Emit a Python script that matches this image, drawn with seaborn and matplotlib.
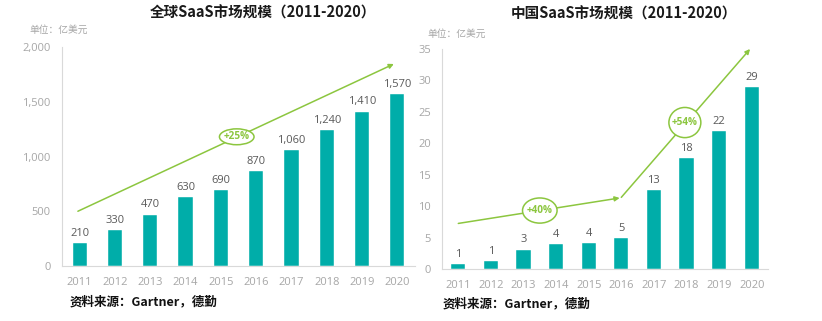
import matplotlib
matplotlib.use("Agg")
import matplotlib.pyplot as plt
import seaborn as sns
import pandas as pd
import numpy as np
from matplotlib.patches import Ellipse

years = ["2011", "2012", "2013", "2014", "2015", "2016", "2017", "2018", "2019", "2020"]
global_values = [210, 330, 470, 630, 690, 870, 1060, 1240, 1410, 1570]
global_labels = ["210", "330", "470", "630", "690", "870", "1,060", "1,240", "1,410", "1,570"]
china_values = [0.8, 1.2, 3.1, 4.0, 4.1, 4.9, 12.6, 17.6, 22.0, 28.9]
china_labels = ["1", "1", "3", "4", "4", "5", "13", "18", "22", "29"]
global_ticks = [0, 500, 1000, 1500, 2000]
global_ticklabels = ["0", "500", "1,000", "1,500", "2,000"]
china_ticks = [0, 5, 10, 15, 20, 25, 30, 35]

sns.set_style("white")
plt.rcParams["font.family"] = ["Noto Sans CJK SC", "DejaVu Sans"]

BAR = "#00ADA9"
GREEN = "#8CC63F"
GRAY = "#A6A6A6"
AXC = "#D9D9D9"
LBL = "#595959"
TICKFONT = ["Open Sans", "Noto Sans CJK SC"]

fig = plt.figure(figsize=(8.22, 3.21), dpi=100)
axL = fig.add_axes([62 / 822, 55 / 321, 353 / 822, 219 / 321])
axR = fig.add_axes([442 / 822, 52 / 321, 326 / 822, 220 / 321])


def style(ax, values, labels, width, ticks, ticklabels, ymax):
    df = pd.DataFrame({"year": years, "value": values})
    sns.barplot(data=df, x="year", y="value", color=BAR, width=width,
                saturation=1, ax=ax, edgecolor="white", linewidth=0.3)
    ax.bar_label(ax.containers[0], labels=labels, padding=3, fontsize=8,
                 color=LBL, family=TICKFONT)
    ax.set_xlim(-0.5, 9.5)
    ax.set_ylim(0, ymax)
    ax.set_xlabel("")
    ax.set_ylabel("")
    ax.set_yticks(ticks)
    ax.set_yticklabels(ticklabels, fontsize=8, color=GRAY, family=TICKFONT)
    ax.tick_params(axis="y", length=0, pad=8)
    ax.tick_params(axis="x", which="major", length=0, pad=8, labelsize=8, labelcolor=GRAY)
    for t in ax.get_xticklabels():
        t.set_family(TICKFONT)
    ax.set_xticks(np.arange(-0.5, 10, 1), minor=True)
    ax.tick_params(axis="x", which="minor", length=4, color=AXC, width=0.8)
    for s in ["top", "right"]:
        ax.spines[s].set_visible(False)
    for s in ["left", "bottom"]:
        ax.spines[s].set_color(AXC)
        ax.spines[s].set_linewidth(0.8)


style(axL, global_values, global_labels, 0.4, global_ticks, global_ticklabels, 2000)
style(axR, china_values, china_labels, 0.43, china_ticks, [str(t) for t in china_ticks], 35)

arrow = dict(arrowstyle="-|>", color=GREEN, lw=1.1, mutation_scale=7, shrinkA=0, shrinkB=0)

# Left growth arrow
axL.annotate("", xy=(8.9, 1845), xytext=(-0.05, 500), arrowprops=arrow, zorder=4,
             annotation_clip=False)
axL.add_patch(Ellipse((4.45, 1180), 0.98, 145, facecolor="white", edgecolor=GREEN, lw=1.1, zorder=5))
axL.text(4.45, 1180, "+25%", ha="center", va="center", color=GREEN, fontsize=7.2,
         fontweight="bold", family=TICKFONT, zorder=6)

# Right growth arrows
axR.annotate("", xy=(4.95, 11.3), xytext=(0.0, 7.25), arrowprops=arrow, zorder=4,
             annotation_clip=False)
axR.annotate("", xy=(8.95, 35.0), xytext=(5.0, 11.4), arrowprops=arrow, zorder=4,
             annotation_clip=False)
axR.add_patch(Ellipse((2.5, 9.3), 1.06, 4.0, facecolor="white", edgecolor=GREEN, lw=1.1, zorder=5))
axR.text(2.5, 9.3, "+40%", ha="center", va="center", color=GREEN, fontsize=7.2,
         fontweight="bold", family=TICKFONT, zorder=6)
axR.add_patch(Ellipse((6.95, 23.3), 0.98, 4.8, facecolor="white", edgecolor=GREEN, lw=1.1, zorder=5))
axR.text(6.95, 23.3, "+54%", ha="center", va="center", color=GREEN, fontsize=7.2,
         fontweight="bold", family=TICKFONT, zorder=6)

# Titles and notes
fig.text(263 / 822, 1 - 13 / 321, "全球SaaS市场规模（2011-2020）", ha="center", va="center",
         fontsize=10.5, fontweight="bold", color="#1A1A1A")
fig.text(624 / 822, 1 - 14 / 321, "中国SaaS市场规模（2011-2020）", ha="center", va="center",
         fontsize=10.5, fontweight="bold", color="#1A1A1A")
fig.text(29 / 822, 1 - 30 / 321, "单位：亿美元", ha="left", va="center", fontsize=7, color=GRAY)
fig.text(427 / 822, 1 - 34 / 321, "单位：亿美元", ha="left", va="center", fontsize=7, color=GRAY)
fig.text(70 / 822, 1 - 302 / 321, "资料来源：Gartner，德勤", ha="left", va="center",
         fontsize=9, fontweight="bold", color="#111111")
fig.text(443 / 822, 1 - 304 / 321, "资料来源：Gartner，德勤", ha="left", va="center",
         fontsize=9, fontweight="bold", color="#111111")

fig.savefig("out.png", dpi=100, facecolor="white")
